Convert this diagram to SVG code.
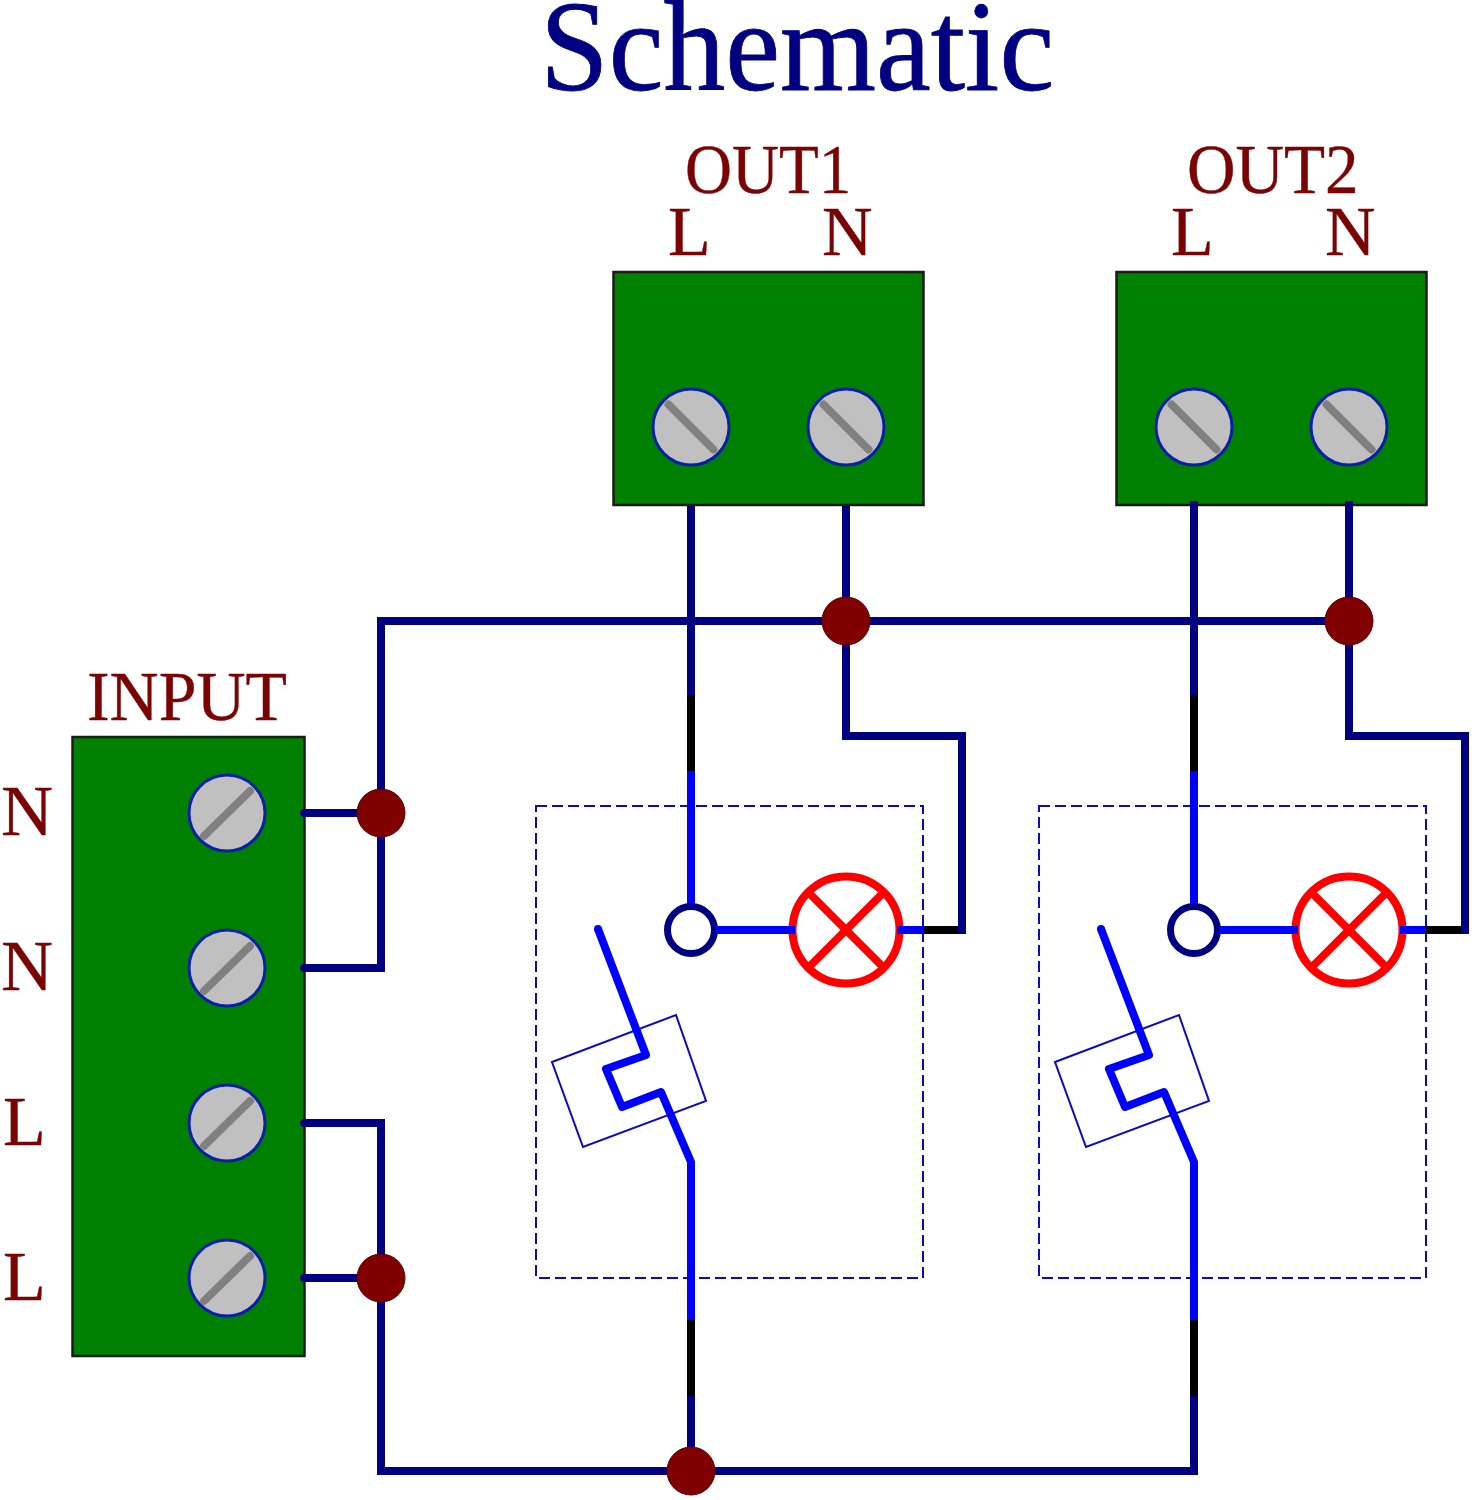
<svg xmlns="http://www.w3.org/2000/svg" width="1474" height="1500" viewBox="0 0 1474 1500">
<defs>
<style>
text{font-family:"Liberation Serif","Times New Roman",serif}
.title{font-size:122px;fill:#000080;stroke:#000080;stroke-width:.8}
.lab{font-size:70px;fill:#7a0404;stroke:#7a0404;stroke-width:.4}
.term{fill:#008000;stroke:#1a1a1a;stroke-width:2.5}
.screw{fill:#c0c0c0;stroke:#0a1fa8;stroke-width:3}
.slot{stroke:#808080;stroke-width:8;stroke-linecap:round}
.w{fill:none;stroke-width:8;stroke-linejoin:miter;stroke-linecap:butt}
.n{stroke:#000080}.k{stroke:#000}.b{stroke:#0000ff}
.dash{fill:none;stroke:#0a0ac8;stroke-width:2;stroke-dasharray:11 5}
.thin{fill:none;stroke:#0a0ac8;stroke-width:2}
.lamp{fill:none;stroke:#ff0000;stroke-width:8}
.lampx{stroke:#ff0000;stroke-width:8}
.dot{fill:#800000;stroke:#600000;stroke-width:1}
.contact{fill:#fff;stroke:#000080;stroke-width:7}
</style>
<g id="screwA"><circle class="screw" r="38"/><line class="slot" x1="-22.5" y1="-22.5" x2="22.5" y2="22.5"/></g>
<g id="screwB"><circle class="screw" r="38"/><line class="slot" x1="-23" y1="23" x2="23" y2="-22"/></g>
<g id="frame">
<rect class="dash" x="536" y="806" width="387" height="472"/>
<polygon class="thin" points="552,1062 676,1015 706,1101 583,1147"/>
</g>
<g id="branch">
<path class="w n" d="M691 505V695"/><path class="w k" d="M691 695V771"/><path class="w b" d="M691 771V906"/>
<path class="w k" d="M923 930H962"/>
<path class="w n" d="M962 926V736H846V505"/>
<path class="w n" d="M958 930H966"/>
<path class="w b" style="stroke-linejoin:round" d="M691 1320V1162L661 1092L622 1107L606 1069L646 1055L598 929"/>
<circle cx="598" cy="929" r="4" fill="#0000ff"/>
<path class="w k" d="M691 1320V1396"/><path class="w n" d="M691 1396V1471"/>
</g>
<g id="device">
<circle class="contact" cx="691" cy="930" r="23.5"/>
<circle class="lamp" cx="846" cy="930" r="53.5"/>
<line class="lampx" x1="808" y1="892" x2="884" y2="968"/><line class="lampx" x1="884" y1="892" x2="808" y2="968"/>
<path class="w b" d="M716 930H795"/><path class="w b" d="M897 930H923"/>
</g>
</defs>
<text class="title" transform="translate(540 90) scale(1.012 1.055)">Schematic</text>
<g id="breaker1"><use href="#frame"/></g>
<g id="breaker2"><use href="#frame" x="503"/></g>
<g id="connectors">
<path class="w n" d="M377 621H1349"/>
<path class="w n" d="M304 813H381"/><path class="w n" d="M381 617V968H304"/>
<path class="w n" d="M304 1123H381V1471H1198"/><path class="w n" d="M304 1278H381"/>
<use href="#branch"/>
<use href="#branch" x="503"/>
<path class="w n" d="M1194 1396V1475"/>
</g>
<g id="out1"><rect class="term" x="613.5" y="272" width="310" height="233"/>
<use href="#screwA" x="691" y="427"/><use href="#screwA" x="846" y="427"/>
<text class="lab" transform="translate(685 193) scale(.93 1)">OUT1</text><text class="lab" x="668" y="255">L</text><text class="lab" x="822" y="255">N</text></g>
<g id="out2"><rect class="term" x="1116.5" y="272" width="310" height="233"/>
<use href="#screwA" x="1194" y="427"/><use href="#screwA" x="1349" y="427"/>
<text class="lab" transform="translate(1187 193) scale(.96 1)">OUT2</text><text class="lab" x="1171" y="255">L</text><text class="lab" x="1325" y="255">N</text></g>
<path class="w n" d="M1194 501V510M1349 501V510"/>
<g id="input"><rect class="term" x="72.5" y="737" width="232" height="619"/>
<use href="#screwB" x="227" y="813"/><use href="#screwB" x="227" y="968"/><use href="#screwB" x="227" y="1123"/><use href="#screwB" x="227" y="1278"/>
<text class="lab" transform="translate(87 720) scale(.97 1)">INPUT</text>
<text class="lab" x="1" y="835" style="font-size:72px">N</text><text class="lab" x="1" y="990" style="font-size:72px">N</text><text class="lab" x="3" y="1145">L</text><text class="lab" x="3" y="1300">L</text></g>
<path class="w n" style="stroke-linecap:round" d="M304 813H308M304 968H308M304 1123H308M304 1278H308"/>
<g id="lampset1"><use href="#device"/></g>
<g id="lampset2"><use href="#device" x="503"/></g>
<g id="junctions">
<circle class="dot" cx="381" cy="813" r="24"/><circle class="dot" cx="381" cy="1278" r="24"/>
<circle class="dot" cx="846" cy="621" r="24"/><circle class="dot" cx="1349" cy="621" r="24"/>
<circle class="dot" cx="691" cy="1471" r="24"/>
</g>
</svg>
